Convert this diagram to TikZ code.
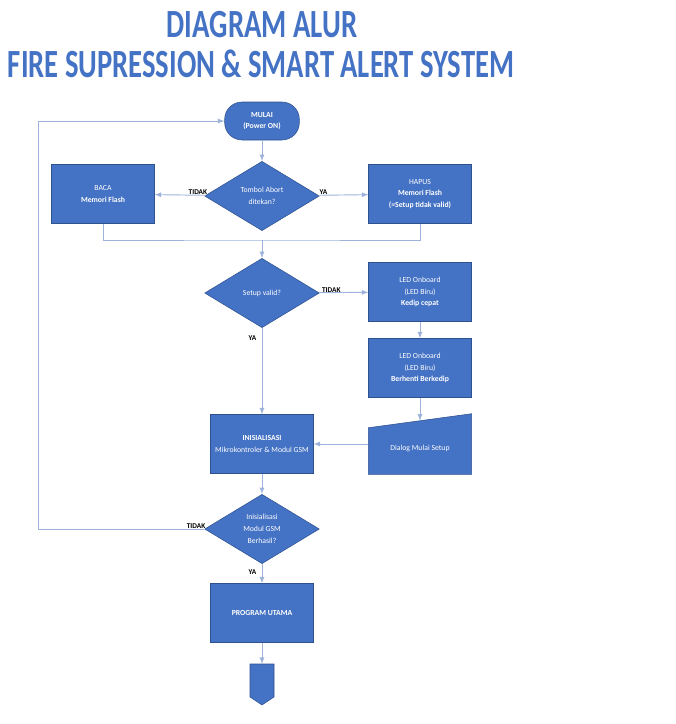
\documentclass[tikz,border=0pt]{standalone}
\usepackage{fontspec}
\setmainfont{Carlito}
\usetikzlibrary{shapes.geometric}

\definecolor{boxblue}{HTML}{4472C4}
\definecolor{edgeblue}{HTML}{2F528F}
\definecolor{lineblue}{HTML}{9DB3DB}

\tikzset{
	block/.style = {rectangle, draw = edgeblue, line width = 0.4pt, fill = boxblue, text = white,
		minimum width = 77pt, minimum height = 44pt, align = center, inner sep = 1pt,
		font = \fontsize{5.8}{8.8}\selectfont},
	decision/.style = {diamond, draw = edgeblue, line width = 0.4pt, fill = boxblue, text = white,
		minimum width = 86pt, minimum height = 52pt, inner sep = 0pt, align = center,
		font = \fontsize{5.8}{8.8}\selectfont},
	terminal/.style = {block, rounded corners = 13pt, minimum width = 56pt, minimum height = 28.5pt},
	flow/.style = {lineblue, line width = 0.7pt},
	answer/.style = {text = black, font = \bfseries\fontsize{5.5}{6}\selectfont, inner sep = 0pt},
	heading/.style = {text = boxblue, font = \bfseries\fontsize{30}{30}\selectfont, inner sep = 0pt}
}

\begin{document}
\begin{tikzpicture}[> = latex, x = 0.75pt, y = -0.75pt]

	\useasboundingbox (0, 0) rectangle (675, 724);

	% Title

	\node [heading] (title1) at (262, 25) {\scalebox{0.72}[1]{DIAGRAM ALUR}};
	\node [heading] (title2) at (261, 64) {\scalebox{0.715}[1]{FIRE SUPRESSION \& SMART ALERT SYSTEM}};

	% Start and abort check

	\node [terminal] (start) at (262, 121) {\textbf{MULAI}\\\textbf{(Power ON)}};
	\node [decision] (abort) at (262, 196) {Tombol Abort\\ditekan?};
	\node [block] (read) at (103, 194) {BACA\\\textbf{Memori Flash}};
	\node [block] (erase) at (420, 194) {HAPUS\\\textbf{Memori Flash}\\\textbf{(=Setup tidak valid)}};

	\draw [flow, ->] (start) -- (abort);
	\draw [flow, ->] (abort) -- node [answer, above, pos = 0.15] (no1) {TIDAK} (read);
	\draw [flow, ->] (abort) -- node [answer, above, pos = 0.1] (yes1) {YA} (erase);

	% Setup check

	\coordinate (join) at (262, 240);
	\node [decision] (valid) at (262, 293) {Setup valid?};
	\node [block] (blink) at (420, 292) {LED Onboard\\(LED Biru)\\\textbf{Kedip cepat}};
	\node [block] (steady) at (420, 368) {LED Onboard\\(LED Biru)\\\textbf{Berhenti Berkedip}};

	\draw [flow] (read.south) |- (join) -| (erase.south);
	\draw [flow, ->] (join) -- (valid.north);
	\draw [flow, ->] (valid) -- node [answer, above, pos = 0.25] (no2) {TIDAK} (blink);
	\draw [flow, ->] (blink) -- (steady);

	% Initialisation and setup dialog

	\node [block] (init) at (262, 444) {\textbf{INISIALISASI}\\Mikrokontroler \& Modul GSM};
	\node [block, draw = none, fill = none, minimum height = 45pt] (dialog) at (420, 444) {};
	\filldraw [draw = edgeblue, line width = 0.4pt, fill = boxblue]
		([yshift = -10.5pt] dialog.north west) -- (dialog.north east) -- (dialog.south east) -- (dialog.south west) -- cycle;
	\node [text = white, font = \fontsize{5.8}{8.8}\selectfont] (dialogtext) at ([yshift = -3pt] dialog.center) {Dialog Mulai Setup};

	\draw [flow, ->] (valid) -- node [answer, pos = 0.12, left = 4pt] (yes2) {YA} (init);
	\draw [flow, ->] (steady) -- ([yshift = -5.25pt] dialog.north);
	\draw [flow, ->] (dialog.west) -- (init.east);

	% GSM check and main program

	\node [decision] (gsm) at (262, 529) {Inisialisasi\\Modul GSM\\Berhasil?};
	\node [block] (main) at (262, 613) {\textbf{PROGRAM UTAMA}};
	\coordinate (back) at (38, 529);

	\draw [flow, ->] (init) -- (gsm);
	\draw [flow, ->] (gsm.west) -- node [answer, above, pos = 0.05] (no3) {TIDAK} (back) |- (start.west);
	\draw [flow, ->] (gsm) -- node [answer, pos = 0.4, left = 4pt] (yes3) {YA} (main);

	% Off-page connector

	\coordinate (offtop) at (262, 664);
	\filldraw [draw = edgeblue, line width = 0.4pt, fill = boxblue]
		(250, 664) -- (274, 664) -- (274, 697) -- (262, 705) -- (250, 697) -- cycle;
	\draw [flow, ->] (main) -- (offtop);

\end{tikzpicture}
\end{document}
